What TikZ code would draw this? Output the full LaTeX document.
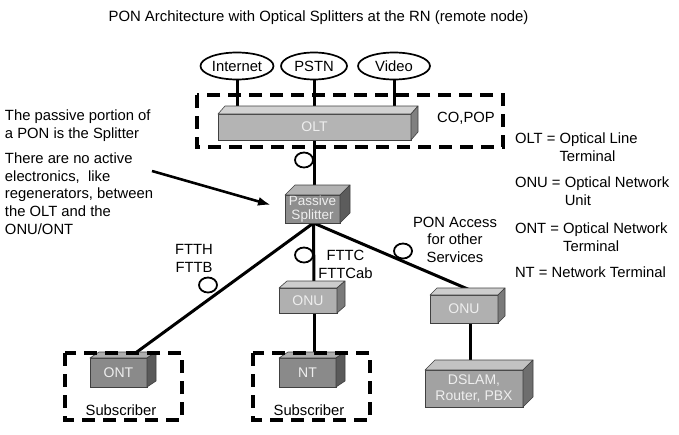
\documentclass[tikz,border=0pt]{standalone}
\usepackage{fontspec}
\setmainfont{Liberation Sans}
\usetikzlibrary{shapes.geometric,arrows.meta,calc}
\pgfdeclarelayer{bg}
\pgfsetlayers{bg,main}
\definecolor{oltfront}{HTML}{B4B4B4}
\definecolor{oltop}{HTML}{D2D2D2}
\definecolor{oltside}{HTML}{808080}
\definecolor{splfront}{HTML}{8E8E8E}
\definecolor{spltop}{HTML}{B2B2B2}
\definecolor{splside}{HTML}{5C5C5C}
\definecolor{onufront}{HTML}{B0B0B0}
\definecolor{onutop}{HTML}{CDCDCD}
\definecolor{onuside}{HTML}{7A7A7A}
\definecolor{ntfront}{HTML}{8A8A8A}
\definecolor{nttop}{HTML}{AEAEAE}
\definecolor{ntside}{HTML}{5A5A5A}
\definecolor{dsfront}{HTML}{A2A2A2}
\definecolor{dstop}{HTML}{C2C2C2}
\definecolor{dsside}{HTML}{6E6E6E}
\definecolor{boxtext}{HTML}{EEEEEE}
\newcommand\cubefaces[5]{% name, dx, dy, top colour, side colour
  \filldraw[fill=#4,draw=black!75,line width=0.6pt,line join=round]
    (#1.north west) -- ++(#2,-#3) -- ([shift={(#2,-#3)}]#1.north east) -- (#1.north east) -- cycle;
  \filldraw[fill=#5,draw=black!75,line width=0.6pt,line join=round]
    (#1.north east) -- ++(#2,-#3) -- ([shift={(#2,-#3)}]#1.south east) -- (#1.south east) -- cycle;
}
\tikzset{
  txt/.style={font=\fontsize{14.8}{17.6}\selectfont, inner sep=0pt, outer sep=0pt},
  front/.style={draw=black!75, line width=0.6pt, inner sep=0pt, outer sep=0pt,
     text=boxtext, font=\fontsize{14}{15}\selectfont, align=center},
  service/.style={ellipse, draw, line width=1.7pt, inner sep=0pt,
     minimum height=27pt, font=\fontsize{14.8}{16}\selectfont},
  conn/.style={line width=3pt},
  dashbox/.style={line width=3.6pt, dash pattern=on 13pt off 8pt},
  fibre/.style={ellipse, draw, line width=1.8pt, fill=white, inner sep=0pt,
     minimum width=18pt, minimum height=15pt},
  pointer/.style={line width=2.6pt, -{Latex[length=13pt,width=9pt]}},
}
\begin{document}
\begin{tikzpicture}[x=1pt,y=-1pt]
\useasboundingbox (0,0) rectangle (679,434);
% title
\node[txt, font=\fontsize{14.9}{16}\selectfont] (title) at (318.5,18) {PON Architecture with Optical Splitters at the RN (remote node)};
% services
\node[service, minimum width=73pt] (inet) at (237,66) {Internet};
\node[service, minimum width=66pt] (pstn) at (314,66) {PSTN};
\node[service, minimum width=72pt] (video) at (394,66) {Video};
% boxes (front faces)
\node[front, fill=oltfront, minimum width=193pt, minimum height=26pt] (olt) at (314.5,127) {OLT};
\cubefaces{olt}{7}{8}{oltop}{oltside}
\node[front, fill=splfront, minimum width=55pt, minimum height=28pt, font=\fontsize{13.5}{14}\selectfont] (split) at (312.5,209) {Passive\\Splitter};
\cubefaces{split}{10}{10}{spltop}{splside}
\node[front, fill=onufront, minimum width=58pt, minimum height=25pt] (onua) at (308,300.5) {ONU};
\cubefaces{onua}{8}{7}{onutop}{onuside}
\node[front, fill=onufront, minimum width=68pt, minimum height=28pt] (onub) at (464,309) {ONU};
\cubefaces{onub}{7}{7}{onutop}{onuside}
\node[front, fill=ntfront, minimum width=57pt, minimum height=29pt] (ont) at (118.5,372.5) {ONT};
\cubefaces{ont}{9}{6}{nttop}{ntside}
\node[front, fill=ntfront, minimum width=57pt, minimum height=29pt] (nt) at (307.5,372.5) {NT};
\cubefaces{nt}{9}{6}{nttop}{ntside}
\node[front, fill=dsfront, minimum width=98pt, minimum height=37pt, font=\fontsize{14}{16}\selectfont] (dslam) at (474,388.5) {DSLAM,\\Router, PBX};
\cubefaces{dslam}{10}{10}{dstop}{dsside}
% dashed boxes
\draw[dashbox] (197,95) rectangle (503,147);
\draw[dashbox] (65,353) rectangle (182,420);
\draw[dashbox] (253,353) rectangle (370,420);
% connectors (behind)
\begin{pgfonlayer}{bg}
\draw[conn] (inet.south) -- (inet.south |- olt.north);
\draw[conn] (pstn.south) -- (pstn.south |- olt.north);
\draw[conn] (video.south) -- (video.south |- olt.north);
\draw[conn] ([xshift=1.5pt]olt.south -| split.north) -- ([xshift=1.5pt]split.north);
\draw[conn] ([xshift=1pt]split.south) -- ([shift={(17,-5)}]ont.north);
\draw[conn] ([xshift=1pt]split.south) -- ([xshift=6pt]onua.north);
\draw[conn] ([xshift=1pt]split.south) -- ([shift={(6,-5)}]onub.north);
\draw[conn] ([xshift=6pt]onua.south) -- ([xshift=6pt]onua.south |- nt.north);
\draw[conn] ([xshift=6pt]onub.south) -- ([xshift=6pt]onub.south |- dslam.north);
\end{pgfonlayer}
% fibre markers
\node[fibre] (fa) at (304,160) {};
\node[fibre] (fb) at (304,255) {};
\node[fibre] (fc) at (403,251) {};
\node[fibre] (fd) at (208,285) {};
% labels
\node[txt] (copop) at (466,118) {CO,POP};
\node[txt, align=center] (ftth) at (194,258.5) {FTTH\\FTTB};
\node[txt, align=center] (fttc) at (345.5,264.5) {FTTC\\FTTCab};
\node[txt, align=center] (ponacc) at (455,239.5) {PON Access\\for other\\Services};
\node[txt] (sub1) at (121,410) {Subscriber};
\node[txt] (sub2) at (309,410) {Subscriber};
% left notes
\node[txt, align=left, anchor=north west] (note1) at (5,110) {The passive portion of\\a PON is the Splitter};
\node[txt, align=left, anchor=north west] (note2) at (5,153) {There are no active\\electronics,\ \ like\\regenerators, between\\the OLT and the\\ONU/ONT};
\coordinate (astart) at (152,171);
\draw[pointer] (astart) -- ([shift={(-14,-4)}]split.west);
% legend
\node[txt, align=left, anchor=north west] (lg1) at (515,133) {OLT = Optical Line\\\hphantom{OLT = }Terminal};
\node[txt, align=left, anchor=north west] (lg2) at (515,177) {ONU = Optical Network\\\hphantom{ONU = }Unit};
\node[txt, align=left, anchor=north west] (lg3) at (515,223) {ONT = Optical Network\\\hphantom{ONT = }Terminal};
\node[txt, align=left, anchor=north west] (lg4) at (515,267) {NT = Network Terminal};
\end{tikzpicture}
\end{document}
